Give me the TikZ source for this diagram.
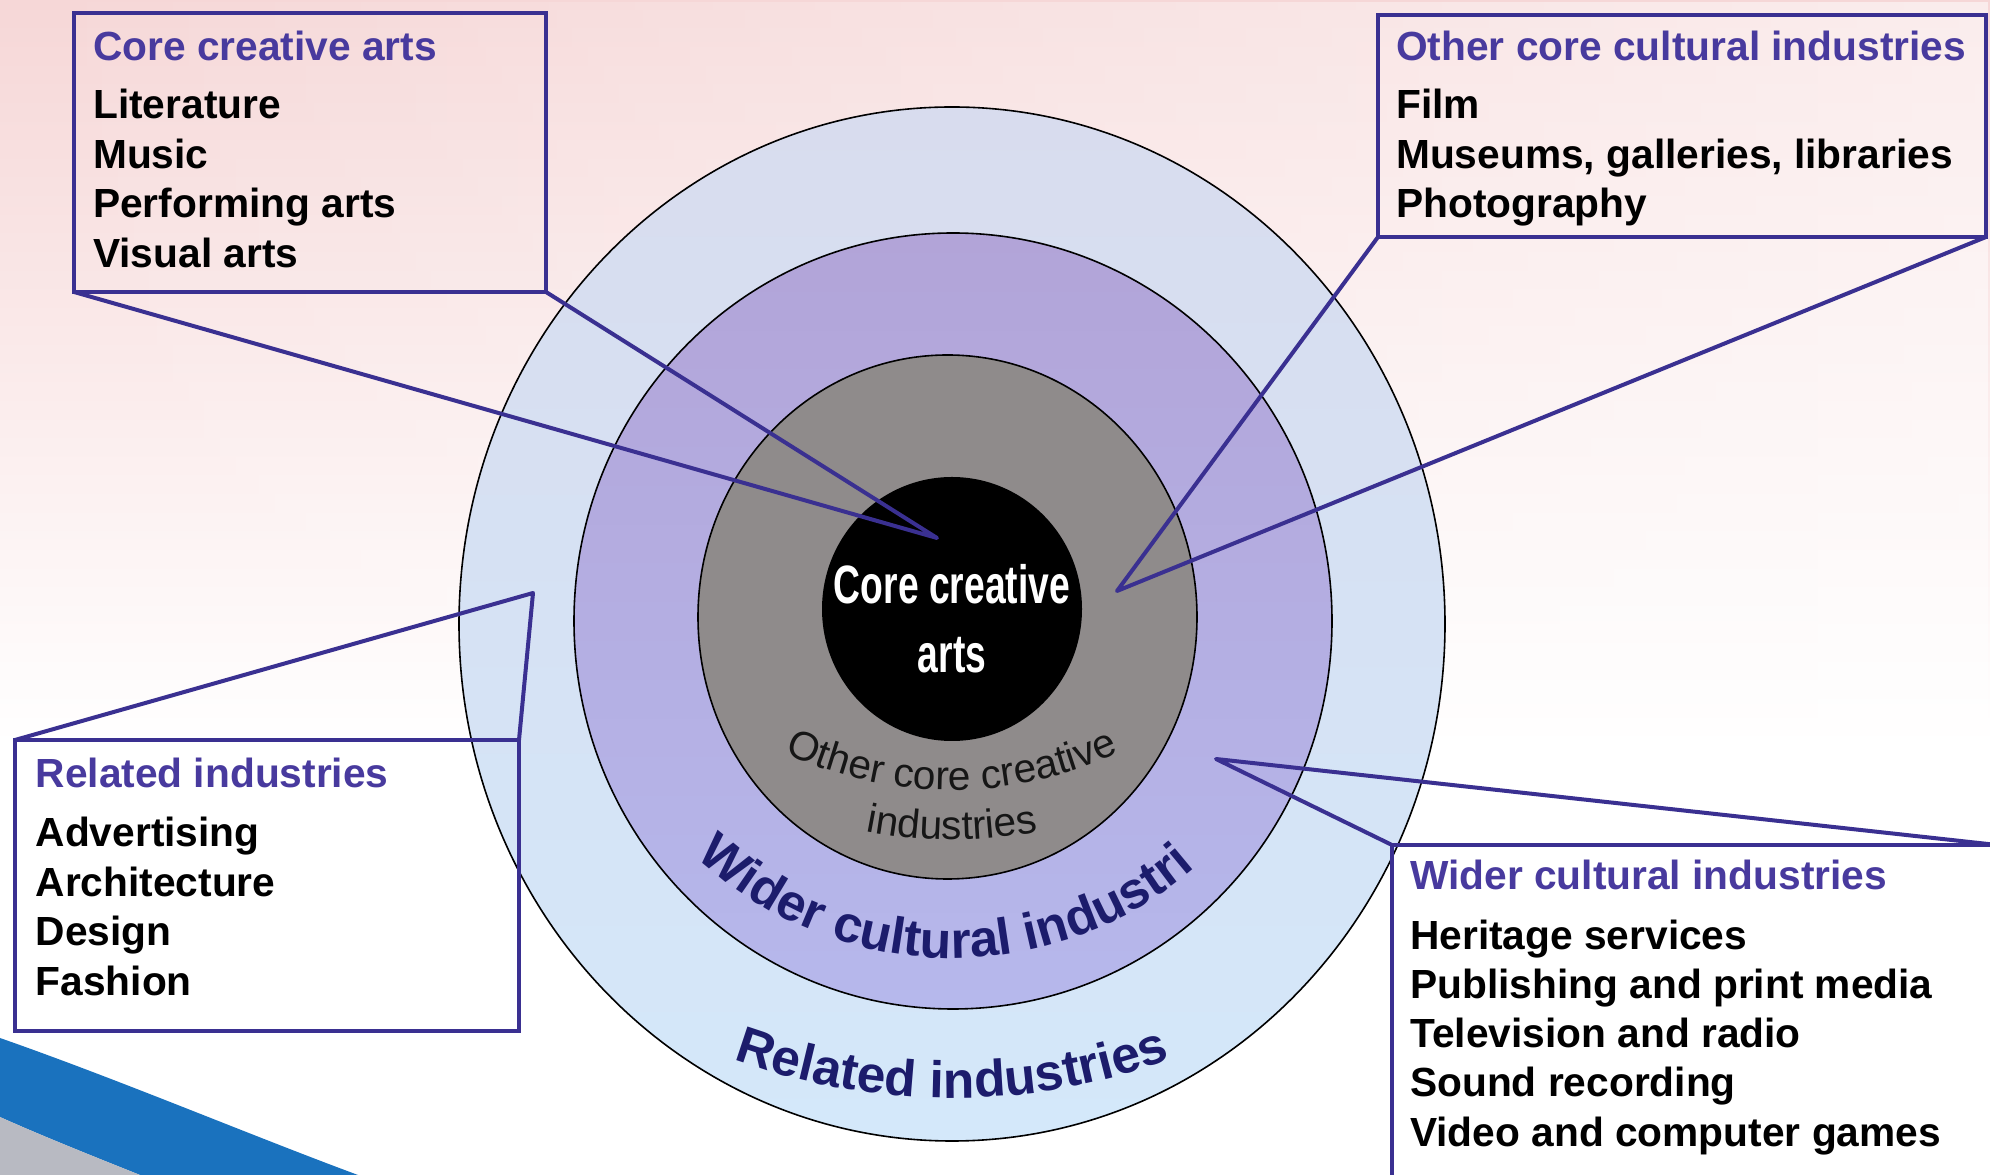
\documentclass[tikz,border=0pt]{standalone}
\usepackage{fontspec}
\setmainfont{Liberation Sans}
\usepackage{graphicx}
\usetikzlibrary{decorations.text,fadings}
\definecolor{bgpink}{RGB}{246,215,215}
\definecolor{ringouterA}{RGB}{216,220,238}
\definecolor{ringouterB}{RGB}{212,232,250}
\definecolor{ringpurpA}{RGB}{178,164,216}
\definecolor{ringpurpB}{RGB}{182,184,236}
\definecolor{coregray}{RGB}{143,139,139}
\definecolor{callout}{RGB}{58,48,145}
\definecolor{titleblue}{RGB}{72,58,158}
\definecolor{ringnavy}{RGB}{28,28,108}
\definecolor{innerdark}{RGB}{22,22,22}
\definecolor{swblue}{RGB}{26,114,190}
\definecolor{swgray}{RGB}{184,186,194}
\newcommand\boxfont{\fontsize{40.7}{48}\selectfont\bfseries}
\newcommand\ringfont{\fontsize{51.5}{60}\selectfont\bfseries}
\newcommand\innerfont{\fontsize{40.6}{48}\selectfont}
\newcommand\centerfont{\fontsize{54}{60}\selectfont\bfseries}
\begin{document}
\begin{tikzpicture}[x=1pt,y=1pt,
  cbox/.style={draw=callout, line width=4pt, rectangle, anchor=north west, outer sep=0pt, inner sep=0pt},
  callline/.style={draw=callout, line width=4pt, line join=round},
  boxtitle/.style={anchor=base west, inner sep=0pt, font=\boxfont, text=titleblue},
  boxitem/.style={anchor=base west, inner sep=0pt, font=\boxfont, text=black},
  ringline/.style={draw=black, line width=1.6pt},
  centertext/.style={anchor=base, inner sep=0pt, text=white}]
\useasboundingbox (0,0) rectangle (1990,1175);
\fill[white] (0,0) rectangle (1990,1175);
\shade[top color=bgpink, bottom color=white] (0,430) rectangle (1990,1175);
\fill[white, path fading=west, fill opacity=0.55] (0,430) rectangle (1990,1175);
% swoosh
\fill[swblue] (0,137) .. controls (120,95) and (250,40) .. (358,0) -- (140,0) .. controls (90,20) and (40,40) .. (0,58) -- cycle;
\fill[swgray] (0,58) .. controls (40,40) and (90,20) .. (140,0) -- (0,0) -- cycle;
% rings
\shadedraw[top color=ringouterA, bottom color=ringouterB, ringline] (952,551) ellipse [x radius=493, y radius=517];
\shadedraw[top color=ringpurpA, bottom color=ringpurpB, ringline] (953,554) ellipse [x radius=379, y radius=388];
\filldraw[fill=coregray, ringline] (947.5,558) ellipse [x radius=249.5, y radius=262];
\fill[black] (952,566) ellipse [x radius=130, y radius=132];
% ring texts
\path[decorate, decoration={text along path, text align=center, text color=ringnavy, text={|\ringfont|Wider cultural industri}}] (952,590) ++(198.75:373) arc[start angle=198.75, end angle=338.75, radius=373];
\path[decorate, decoration={text along path, text align=center, text color=ringnavy, text={|\ringfont|Related industries}}] (952,717) ++(205:640) arc[start angle=205, end angle=335, radius=640];
\path[decorate, decoration={text along path, text align=center, text color=innerdark, text={|\innerfont|Other core creative}}] (952,779) ++(200:394) arc[start angle=200, end angle=340, radius=394];
\path[decorate, decoration={text along path, text align=center, text color=innerdark, text={|\innerfont|industries}}] (952,779) ++(215:444) arc[start angle=215, end angle=325, radius=444];
\node[centertext] (ct1) at (952,571) {\scalebox{0.69}[1]{\centerfont Core creative}};
\node[centertext] (ct2) at (952,502) {\scalebox{0.69}[1]{\centerfont arts}};
% boxes
\node[cbox, minimum width=472, minimum height=279] (b1) at (74,1162) {};
\node[cbox, minimum width=608, minimum height=222] (b2) at (1378,1160) {};
\node[cbox, minimum width=504, minimum height=291] (b3) at (15,435) {};
\node[cbox, minimum width=605, minimum height=340] (b4) at (1392,330) {};
% callout tips
\coordinate (t1) at (937,637);
\coordinate (t2) at (1117,584);
\coordinate (t3) at (533,582);
\coordinate (t4) at (1216,416);
\draw[callline] (b1.south west) -- (t1) -- (b1.south east);
\draw[callline] (b2.south west) -- (t2) -- (b2.south east);
\draw[callline] (b3.north west) -- (t3) -- (b3.north east);
\draw[callline] (b4.north west) -- (t4) -- (b4.north east);
% box texts
\node[boxtitle] (b1h) at (93,1114) {Core creative arts};
\node[boxitem] (b1a) at (93,1056) {Literature};
\node[boxitem] (b1b) at (93,1006.5) {Music};
\node[boxitem] (b1c) at (93,957) {Performing arts};
\node[boxitem] (b1d) at (93,907.5) {Visual arts};
\node[boxtitle] (b2h) at (1396,1114) {Other core cultural industries};
\node[boxitem] (b2a) at (1396,1056) {Film};
\node[boxitem] (b2b) at (1396,1006.5) {Museums, galleries, libraries};
\node[boxitem] (b2c) at (1396,957) {Photography};
\node[boxtitle] (b3h) at (35.5,387) {Related industries};
\node[boxitem] (b3a) at (35.5,328) {Advertising};
\node[boxitem] (b3b) at (35.5,278.5) {Architecture};
\node[boxitem] (b3c) at (35.5,229) {Design};
\node[boxitem] (b3d) at (35.5,179.5) {Fashion};
\node[boxtitle] (b4h) at (1410,285) {Wider cultural industries};
\node[boxitem] (b4a) at (1410,225.5) {Heritage services};
\node[boxitem] (b4b) at (1410,176) {Publishing and print media};
\node[boxitem] (b4c) at (1410,127) {Television and radio};
\node[boxitem] (b4d) at (1410,78) {Sound recording};
\node[boxitem] (b4e) at (1410,28.5) {Video and computer games};
\end{tikzpicture}
\end{document}
